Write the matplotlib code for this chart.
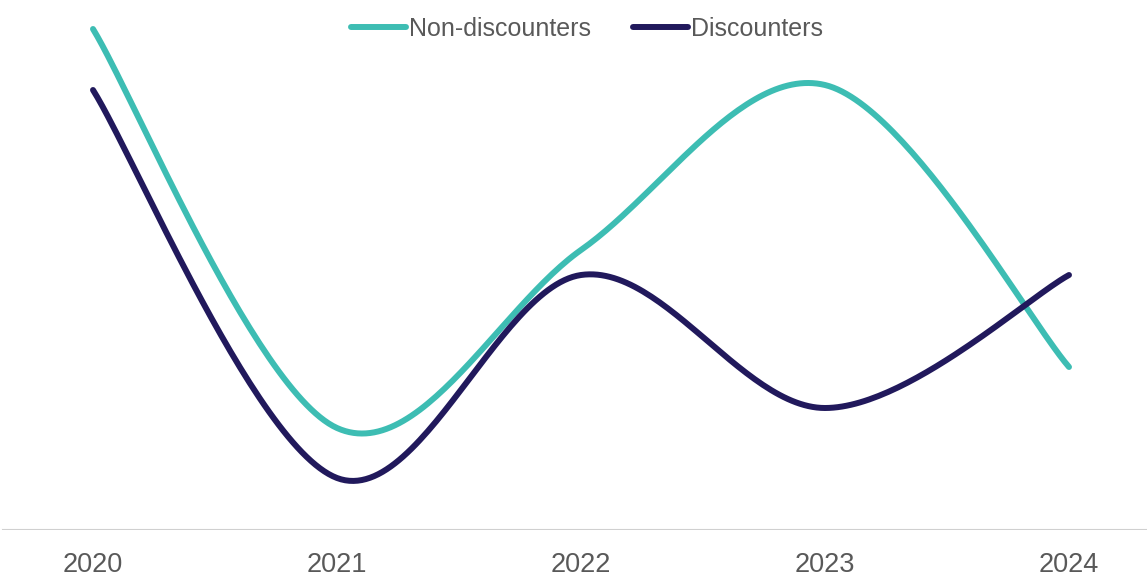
import matplotlib
matplotlib.use("Agg")
import matplotlib.pyplot as plt
import numpy as np

years = ["2020", "2021", "2022", "2023", "2024"]
non_discounters = [50.1, 10.2, 28.0, 44.5, 16.3]
discounters = [44.0, 5.2, 25.5, 12.2, 25.5]

TEAL = "#3dbdb3"
NAVY = "#21195c"
GREY = "#595959"

plt.rcParams["font.family"] = ["Liberation Sans", "DejaVu Sans"]


def smooth(xs, ys, n=60):
    # Excel-style smoothed line: cubic Bezier segments with 1/6 tangents
    p = np.column_stack([xs, ys]).astype(float)
    ext = np.vstack([p[0], p, p[-1]])
    t = np.linspace(0, 1, n)[:, None]
    out = []
    for i in range(len(p) - 1):
        p0, p3 = ext[i + 1], ext[i + 2]
        c1 = p0 + (ext[i + 2] - ext[i]) / 6
        c2 = p3 - (ext[i + 3] - ext[i + 1]) / 6
        seg = ((1 - t) ** 3) * p0 + 3 * ((1 - t) ** 2) * t * c1 \
            + 3 * (1 - t) * t ** 2 * c2 + t ** 3 * p3
        out.append(seg if i == 0 else seg[1:])
    out = np.vstack(out)
    return out[:, 0], out[:, 1]


fig = plt.figure(figsize=(11.47, 5.76), dpi=100)
ax = fig.add_axes([0, 46 / 576, 1, 530 / 576])

x = np.arange(len(years))
for vals, col, lab in [(non_discounters, TEAL, "Non-discounters"),
                       (discounters, NAVY, "Discounters")]:
    sx, sy = smooth(x, vals)
    ax.plot(sx, sy, color=col, lw=4.3, solid_capstyle="round", label=lab)

ax.set_xlim(-93 / 244, 4 + (1147 - 1069) / 244)
ax.set_ylim(0, 53)
ax.axhline(0, xmin=3 / 1147, xmax=1, color="#d0d0d0", lw=1.5)

for s in ax.spines.values():
    s.set_visible(False)
ax.set_yticks([])
ax.set_xticks(x)
ax.set_xticklabels(years, fontsize=19.5, color=GREY)
ax.tick_params(axis="x", length=0, pad=16)

fig.legend(loc="center", bbox_to_anchor=(587 / 1147, 1 - 29 / 576), ncol=2,
           frameon=False, fontsize=18, labelcolor=GREY, handlelength=2.2,
           handletextpad=0.15, columnspacing=1.65)

fig.savefig("out.png", dpi=100)
